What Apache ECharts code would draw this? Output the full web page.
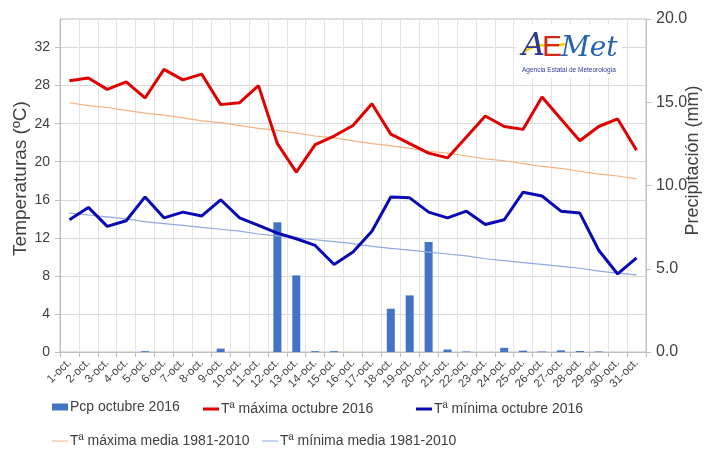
<!DOCTYPE html>
<html>
<head>
<meta charset="utf-8">
<script src="https://cdn.jsdelivr.net/npm/echarts@6/dist/echarts.min.js"></script>
<style>html,body{margin:0;padding:0;background:#fff}#c{width:707px;height:450px}</style>
</head>
<body>
<div id="c"></div>
<script>
var days = ['1-oct.','2-oct.','3-oct.','4-oct.','5-oct.','6-oct.','7-oct.','8-oct.','9-oct.','10-oct.','11-oct.','12-oct.','13-oct.','14-oct.','15-oct.','16-oct.','17-oct.','18-oct.','19-oct.','20-oct.','21-oct.','22-oct.','23-oct.','24-oct.','25-oct.','26-oct.','27-oct.','28-oct.','29-oct.','30-oct.','31-oct.'];
var pcp = [0,0,0,0,0.05,0,0,0,0.2,0,0,7.8,4.6,0.05,0.05,0,0,2.6,3.4,6.6,0.15,0.03,0,0.25,0.08,0.03,0.1,0.06,0.03,0,0];
var tmax = [28.5,28.8,27.6,28.4,26.7,29.7,28.6,29.2,26.0,26.2,28.0,21.9,18.9,21.8,22.7,23.8,26.1,22.9,21.9,20.9,20.4,22.6,24.8,23.7,23.4,26.8,24.5,22.2,23.7,24.5,21.2];
var tmin = [13.9,15.2,13.2,13.8,16.3,14.1,14.7,14.3,16.0,14.1,13.3,12.5,11.9,11.2,9.2,10.5,12.7,16.3,16.2,14.7,14.1,14.8,13.4,13.9,16.8,16.4,14.8,14.6,10.7,8.2,9.9];
var tmaxMedia = [26.2,25.9,25.7,25.4,25.1,24.9,24.6,24.3,24.1,23.8,23.5,23.3,23.0,22.7,22.5,22.2,21.9,21.7,21.4,21.1,20.9,20.6,20.3,20.1,19.8,19.5,19.3,19.0,18.7,18.5,18.2];
var tminMedia = [14.6,14.4,14.2,14.0,13.7,13.5,13.3,13.1,12.9,12.7,12.4,12.2,12.0,11.8,11.6,11.4,11.1,10.9,10.7,10.5,10.3,10.1,9.8,9.6,9.4,9.2,9.0,8.8,8.5,8.3,8.1];
var leftTicks = {min: 0, max: 35, interval: 4};
var rightTicks = {min: 0, max: 20, interval: 5};
var names = ['Pcp octubre 2016','Tª máxima octubre 2016','Tª mínima octubre 2016','Tª máxima media 1981-2010','Tª mínima media 1981-2010'];

var chart = echarts.init(document.getElementById('c'), null, {renderer: 'canvas'});
var font = 'Liberation Sans, Arial, sans-serif';
var txt = '#404040';
function leg(name, left, top, w, h, color) {
  return {data: [{name: name, icon: 'rect', itemStyle: {color: color, borderWidth: 0}}], left: left, top: top, itemWidth: w, itemHeight: h,
    itemGap: 0, padding: 0, textStyle: {fontFamily: font, fontSize: 14, color: txt, padding: [0,0,0,-3]}, selectedMode: false};
}
chart.setOption({
  animation: false,
  backgroundColor: '#fff',
  grid: {left: 60, right: 61, top: 19, bottom: 98, containLabel: false, outerBoundsMode: 'none', show: true, borderColor: '#bfbfbf', borderWidth: 1},
  legend: [
    leg(names[0], 52, 400, 16, 7, '#4472c4'),
    leg(names[1], 203, 402, 16, 3, '#e00000'),
    leg(names[2], 416, 402, 16, 3, '#0a0ab4'),
    leg(names[3], 52, 434, 16, 1, '#f4b183'),
    leg(names[4], 262, 434, 16, 1, '#8fa9dc')
  ],
  xAxis: {
    type: 'category', data: days, boundaryGap: true,
    axisLine: {lineStyle: {color: '#bfbfbf'}},
    axisTick: {show: true, length: 5, lineStyle: {color: '#bfbfbf'}, interval: 0},
    splitLine: {show: true, interval: 0, lineStyle: {color: '#e3e3e3'}},
    axisLabel: {rotate: 45, interval: 0, fontFamily: font, fontSize: 11.5, color: txt, margin: 9}
  },
  yAxis: [{
    type: 'value', min: leftTicks.min, max: leftTicks.max, interval: leftTicks.interval,
    name: 'Temperaturas (ºC)', nameLocation: 'middle', nameRotate: 90, nameGap: 30, nameMoveOverlap: false,
    nameTextStyle: {fontFamily: font, fontSize: 19, color: txt, padding: [0,0,0,14]},
    axisLine: {show: true, lineStyle: {color: '#bfbfbf'}},
    axisTick: {show: true, length: 5, lineStyle: {color: '#bfbfbf'}},
    splitLine: {show: true, lineStyle: {color: '#d9d9d9'}},
    axisLabel: {showMaxLabel: false, fontFamily: font, fontSize: 14, color: txt, margin: 10}
  }, {
    type: 'value', min: rightTicks.min, max: rightTicks.max, interval: rightTicks.interval, position: 'right',
    name: 'Precipitación (mm)', nameLocation: 'middle', nameRotate: 90, nameGap: 38, nameMoveOverlap: false,
    nameTextStyle: {fontFamily: font, fontSize: 18, color: txt, padding: [0,0,0,50]},
    axisLine: {show: true, lineStyle: {color: '#bfbfbf'}},
    axisTick: {show: true, length: 5, lineStyle: {color: '#bfbfbf'}},
    splitLine: {show: false},
    axisLabel: {fontFamily: font, fontSize: 16, color: txt, margin: 10, formatter: function (v) { return v.toFixed(1); }}
  }],
  series: [
    {name: names[0], type: 'bar', yAxisIndex: 1, data: pcp, barWidth: 8, itemStyle: {color: '#4472c4'}},
    {name: names[3], type: 'line', data: tmaxMedia, symbol: 'none', lineStyle: {color: '#f4b183', width: 1.2}, itemStyle: {color: '#f4b183'}},
    {name: names[4], type: 'line', data: tminMedia, symbol: 'none', lineStyle: {color: '#8fa9dc', width: 1.2}, itemStyle: {color: '#8fa9dc'}},
    {name: names[1], type: 'line', data: tmax, symbol: 'none', lineStyle: {color: '#e00000', width: 3}, itemStyle: {color: '#e00000'}},
    {name: names[2], type: 'line', data: tmin, symbol: 'none', lineStyle: {color: '#0a0ab4', width: 3}, itemStyle: {color: '#0a0ab4'}}
  ],
  graphic: [
    {type: 'rect', left: 516, top: 24, shape: {width: 106, height: 54}, style: {fill: '#ffffff'}, z: 10},
    {type: 'bezierCurve', shape: {x1: 524, y1: 52, x2: 565, y2: 44, cpx1: 540, cpy1: 40, cpx2: 555, cpy2: 48}, style: {stroke: '#f5d100', lineWidth: 2.5, fill: null}, z: 11},
    {type: 'text', left: 522, top: 31, style: {text: 'A', font: 'italic 32px "DejaVu Serif", serif', fill: '#2b3990'}, z: 12},
    {type: 'text', left: 542, top: 33, style: {text: 'E', font: '30px "Liberation Sans", sans-serif', fill: '#d42a1e'}, z: 12},
    {type: 'text', left: 561, top: 35, style: {text: 'Met', font: 'italic 28px "DejaVu Serif", serif', fill: '#2563b0'}, z: 12},
    {type: 'text', left: 522, top: 67, style: {text: 'Agencia Estatal de Meteorología', font: '6.5px "Liberation Sans", sans-serif', fill: '#2b3990'}, z: 12}
  ]
});
</script>
</body>
</html>
